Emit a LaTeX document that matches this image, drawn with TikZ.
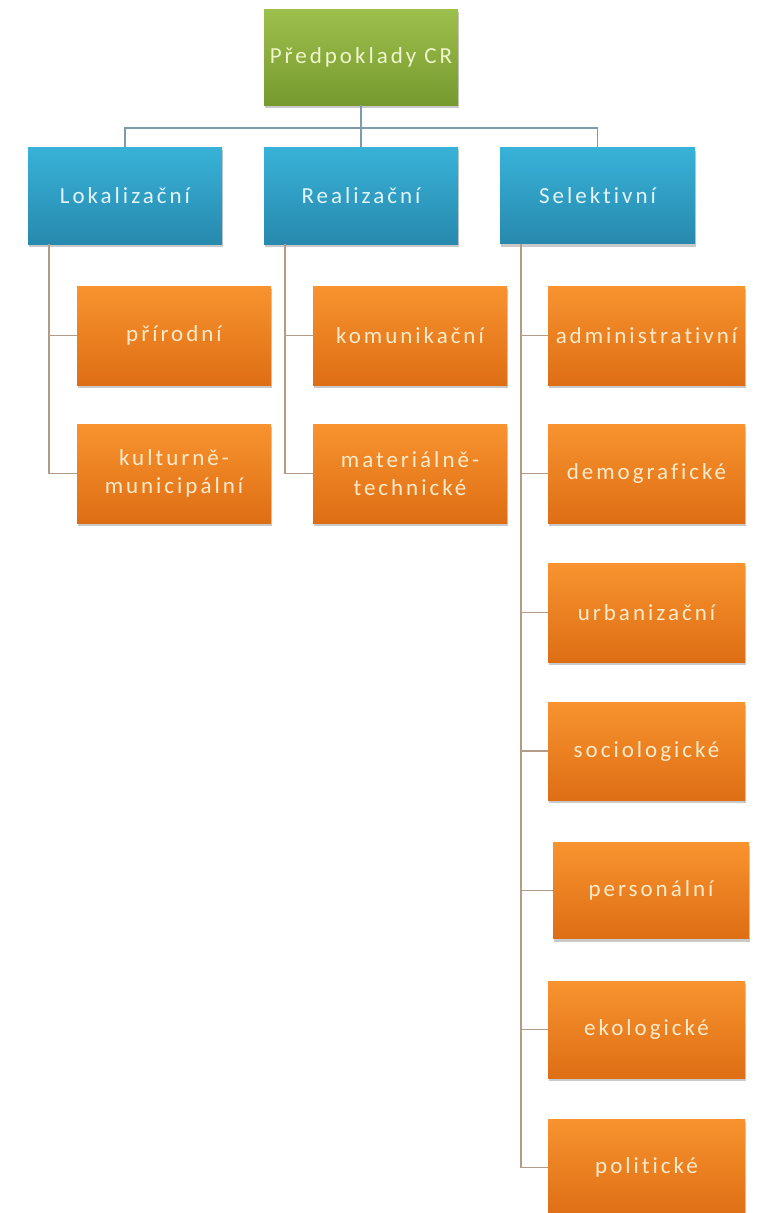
\documentclass[tikz,border=0pt]{standalone}
\usepackage{fontspec}
\setmainfont{Carlito}[LetterSpace=13, Ligatures=NoCommon]
\usetikzlibrary{shadows}
\definecolor{gtop}{HTML}{9DBF4C}
\definecolor{gbot}{HTML}{779A2F}
\definecolor{btop}{HTML}{38B2D8}
\definecolor{bbot}{HTML}{2889AE}
\definecolor{otop}{HTML}{F8932F}
\definecolor{obot}{HTML}{DE6E14}
\definecolor{gtext}{HTML}{EEF6CC}
\definecolor{btext}{HTML}{E2F5FB}
\definecolor{otext}{HTML}{FDEBCB}
\definecolor{connA}{HTML}{7E9BAE}
\definecolor{connB}{HTML}{B29C87}
\tikzset{
  boxbase/.style={rectangle, inner sep=0pt, align=center,
    font=\fontsize{23}{28}\selectfont,
    drop shadow={shadow xshift=1pt, shadow yshift=-3pt, opacity=0.3, fill=black!70}},
  gbox/.style={boxbase, top color=gtop, bottom color=gbot, text=gtext},
  bbox/.style={boxbase, top color=btop, bottom color=bbot, text=btext},
  obox/.style={boxbase, top color=otop, bottom color=obot, text=otext},
  connhi/.style={draw=connA, line width=1.6pt},
  connlo/.style={draw=connB, line width=1.6pt}
}
\begin{document}
\begin{tikzpicture}[x=1pt, y=-1pt]
\useasboundingbox (0,0) rectangle (762,1213);
% top
\node[gbox, minimum width=194pt, minimum height=96pt] (top) at (361,57) {Předpoklady CR};
% level 1
\node[bbox, minimum width=194pt, minimum height=97pt] (lok) at (125,195.5) {Lokalizační};
\node[bbox, minimum width=194pt, minimum height=97pt] (real) at (361,195.5) {Realizační};
\node[bbox, minimum width=195pt, minimum height=96pt] (sel) at (597.5,195.5) {Selektivní};
% left column
\node[obox, minimum width=194pt, minimum height=99pt] (prir) at (174,335.5) {přírodní};
\node[obox, minimum width=194pt, minimum height=99pt] (kult) at (174,473.5) {kulturně-\\municipální};
% middle column
\node[obox, minimum width=194pt, minimum height=99pt] (kom) at (410,335.5) {komunikační};
\node[obox, minimum width=194pt, minimum height=99pt] (mat) at (410,473.5) {materiálně-\\technické};
% right column
\node[obox, minimum width=197pt, minimum height=99pt] (adm) at (646.5,335.5) {administrativní};
\node[obox, minimum width=197pt, minimum height=99pt] (dem) at (646.5,473.5) {demografické};
\node[obox, minimum width=197pt, minimum height=99pt] (urb) at (646.5,612.5) {urbanizační};
\node[obox, minimum width=197pt, minimum height=98pt] (soc) at (646.5,751) {sociologické};
\node[obox, minimum width=196pt, minimum height=96pt] (per) at (651,890.5) {personální};
\node[obox, minimum width=197pt, minimum height=97pt] (eko) at (646.5,1029.5) {ekologické};
\node[obox, minimum width=197pt, minimum height=97pt] (pol) at (646.5,1167.5) {politické};
% connectors level 0-1
\coordinate (hub) at (361,128);
\draw[connhi] (top.south) -- (real.north);
\draw[connhi] (lok.north) |- (hub) -| (sel.north);
% connectors to children
\coordinate (lokd) at ([xshift=21pt]lok.south west);
\coordinate (reald) at ([xshift=21pt]real.south west);
\coordinate (seld) at ([xshift=21pt]sel.south west);
\draw[connlo] (lokd) |- (prir.west);
\draw[connlo] (lokd) |- (kult.west);
\draw[connlo] (reald) |- (kom.west);
\draw[connlo] (reald) |- (mat.west);
\foreach \n in {adm,dem,urb,soc,per,eko,pol}{
  \draw[connlo] (seld) |- (\n.west);
}
\end{tikzpicture}
\end{document}
